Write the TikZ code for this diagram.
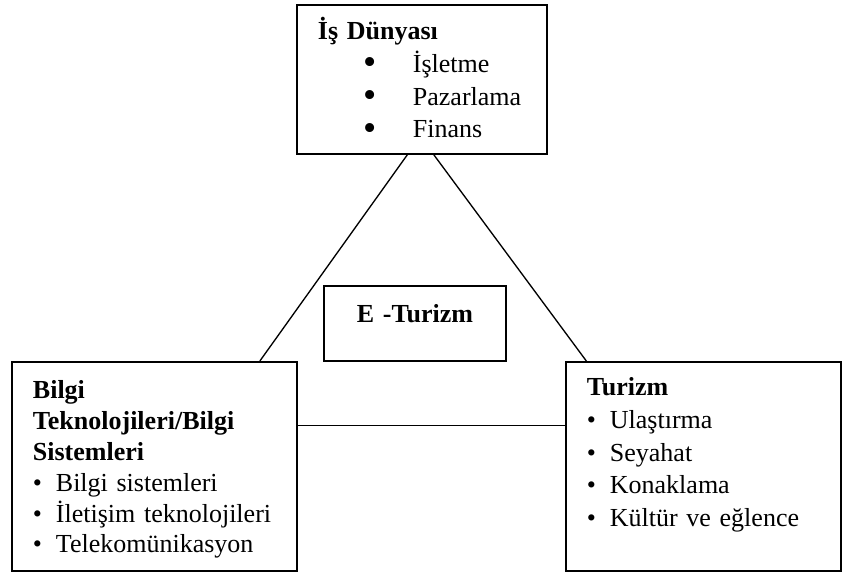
\documentclass[tikz,border=0pt]{standalone}
\usepackage{fontspec}
\setmainfont{Liberation Serif}
\usetikzlibrary{positioning}

\newcommand{\blt}[1]{\makebox[17.25pt][l]{\textbullet}#1}
\newcommand{\bigblt}[1]{\hspace*{34pt}\makebox[37.25pt][l]{\smash{\raisebox{-1.8pt}{\scalebox{1.45}{\textbullet}}}}#1}

\begin{document}
\begin{tikzpicture}[
    x=0.75pt, y=-0.75pt,
    box/.style={
        draw, rectangle, line width=1.4pt, anchor=north west,
        inner xsep=15.75pt, inner ysep=0pt, align=left
    },
    conn/.style={line width=1pt}
]
\useasboundingbox (0,0) rectangle (842,573);

\node[box, text width=156pt, text height=26.25pt, text depth=85.5pt,
      font=\fontsize{19.5}{24.5}\selectfont] (isdunyasi) at (296,4)
     {\textbf{İş Dünyası}\\ \bigblt{İşletme}\\ \bigblt{Pazarlama}\\ \bigblt{Finans}};

\node[box, text width=182.25pt, text height=27.75pt, text depth=129pt,
      font=\fontsize{19.5}{23.1}\selectfont] (bilgi) at (11,361)
     {\textbf{Bilgi}\\ \textbf{Teknolojileri/Bilgi}\\ \textbf{Sistemleri}\\
      \blt{Bilgi sistemleri}\\ \blt{İletişim teknolojileri}\\ \blt{Telekomünikasyon}};

\node[box, text width=174.75pt, text height=25.5pt, text depth=131.25pt,
      font=\fontsize{19.5}{24.4}\selectfont] (turizm) at (565,361)
     {\textbf{Turizm}\\ \blt{Ulaştırma}\\ \blt{Seyahat}\\ \blt{Konaklama}\\ \blt{Kültür ve eğlence}};

\node[box, align=center, text width=105pt, text height=27.75pt, text depth=28.5pt,
      font=\fontsize{19.5}{24}\selectfont] (eturizm) at (323,285)
     {\textbf{E -Turizm}};

\draw[conn] (isdunyasi.259) -- (bilgi.45);
\draw[conn] (isdunyasi.279) -- (turizm.138);
\draw[conn] (bilgi.16) -- (bilgi.16 -| turizm.west);

\end{tikzpicture}
\end{document}
